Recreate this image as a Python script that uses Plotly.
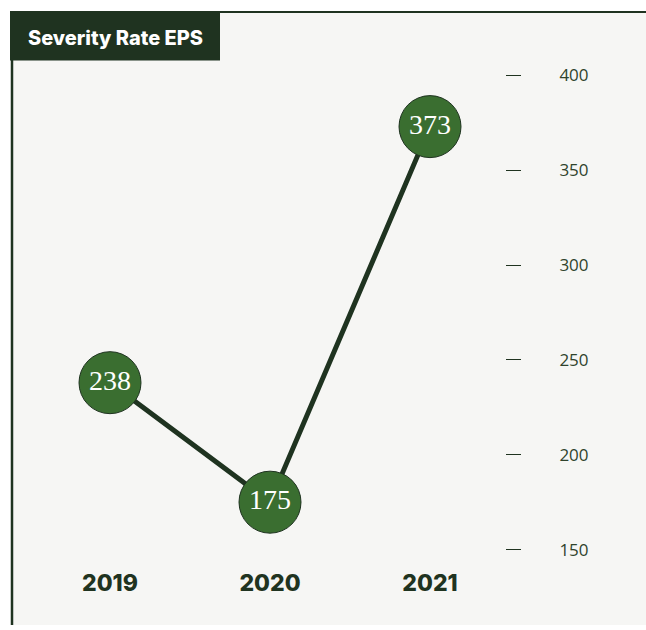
import plotly.graph_objects as go

# Severity rate (EPS) by year
years = [2019, 2020, 2021]
year_labels = ["2019", "2020", "2021"]
severity = [238, 175, 373]
y_ticks = [150, 200, 250, 300, 350, 400]

W, H = 646, 630
DARK = "#1f3320"
FILL = "#3a6e30"
PANEL = "#f6f6f4"


def px(x):
    return x / W


def py(y):
    return 1 - y / H


# plot area in pixels
left, right, top, bottom = 30, 505, 30, 560
step = 160.0            # px between years
scale = 478 / 250.0     # px per unit

x_range = [years[0] - (110 - left) / step, years[-1] + (right - 430) / step]
y_range = [150 - (bottom - 554) / scale, 400 + (76 - top) / scale]

fig = go.Figure()
fig.add_trace(go.Scatter(
    x=years,
    y=severity,
    mode="lines+markers+text",
    line=dict(color=DARK, width=5),
    marker=dict(size=62, color=FILL, line=dict(color=DARK, width=1)),
    text=[str(v) for v in severity],
    textposition="middle center",
    textfont=dict(family="Liberation Serif", size=28, color="white"),
    hoverinfo="skip",
    cliponaxis=False,
))

shapes = [
    # panel background
    dict(type="rect", xref="paper", yref="paper", x0=px(12), x1=px(646), y0=py(630), y1=py(12),
         fillcolor=PANEL, line=dict(width=0), layer="below"),
    # top and left borders
    dict(type="line", xref="paper", yref="paper", x0=px(12), x1=px(646), y0=py(12), y1=py(12),
         line=dict(color=DARK, width=2), layer="above"),
    dict(type="line", xref="paper", yref="paper", x0=px(12), x1=px(12), y0=py(12), y1=py(630),
         line=dict(color=DARK, width=2.5), layer="above"),
    # title box
    dict(type="rect", xref="paper", yref="paper", x0=px(10), x1=px(220), y0=py(61), y1=py(11),
         fillcolor=DARK, line=dict(width=0), layer="above"),
]

fig.update_layout(
    width=W,
    height=H,
    margin=dict(l=0, r=0, t=0, b=0),
    paper_bgcolor="white",
    plot_bgcolor="rgba(0,0,0,0)",
    showlegend=False,
    shapes=shapes,
    annotations=[
        dict(text="Severity Rate EPS", xref="paper", yref="paper",
             x=px(115), y=py(38), xanchor="center", yanchor="middle", showarrow=False,
             font=dict(family="Inter", size=20, color="white", weight=800)),
    ],
    xaxis=dict(
        domain=[px(left), px(right)],
        range=x_range,
        tickmode="array",
        tickvals=years,
        ticktext=year_labels,
        showgrid=False,
        zeroline=False,
        showline=False,
        ticks="",
        tickfont=dict(family="Inter", size=23, color=DARK, weight=800),
        ticklabelstandoff=11,
        fixedrange=True,
    ),
    yaxis=dict(
        domain=[py(bottom), py(top)],
        range=y_range,
        side="right",
        tickmode="array",
        tickvals=y_ticks,
        showgrid=False,
        zeroline=False,
        showline=False,
        ticks="outside",
        ticklen=15,
        tickwidth=1,
        tickcolor=DARK,
        ticklabelstandoff=35,
        tickfont=dict(family="Open Sans", size=17, color="#2f432c"),
        fixedrange=True,
    ),
)

fig.write_html("out.html")
